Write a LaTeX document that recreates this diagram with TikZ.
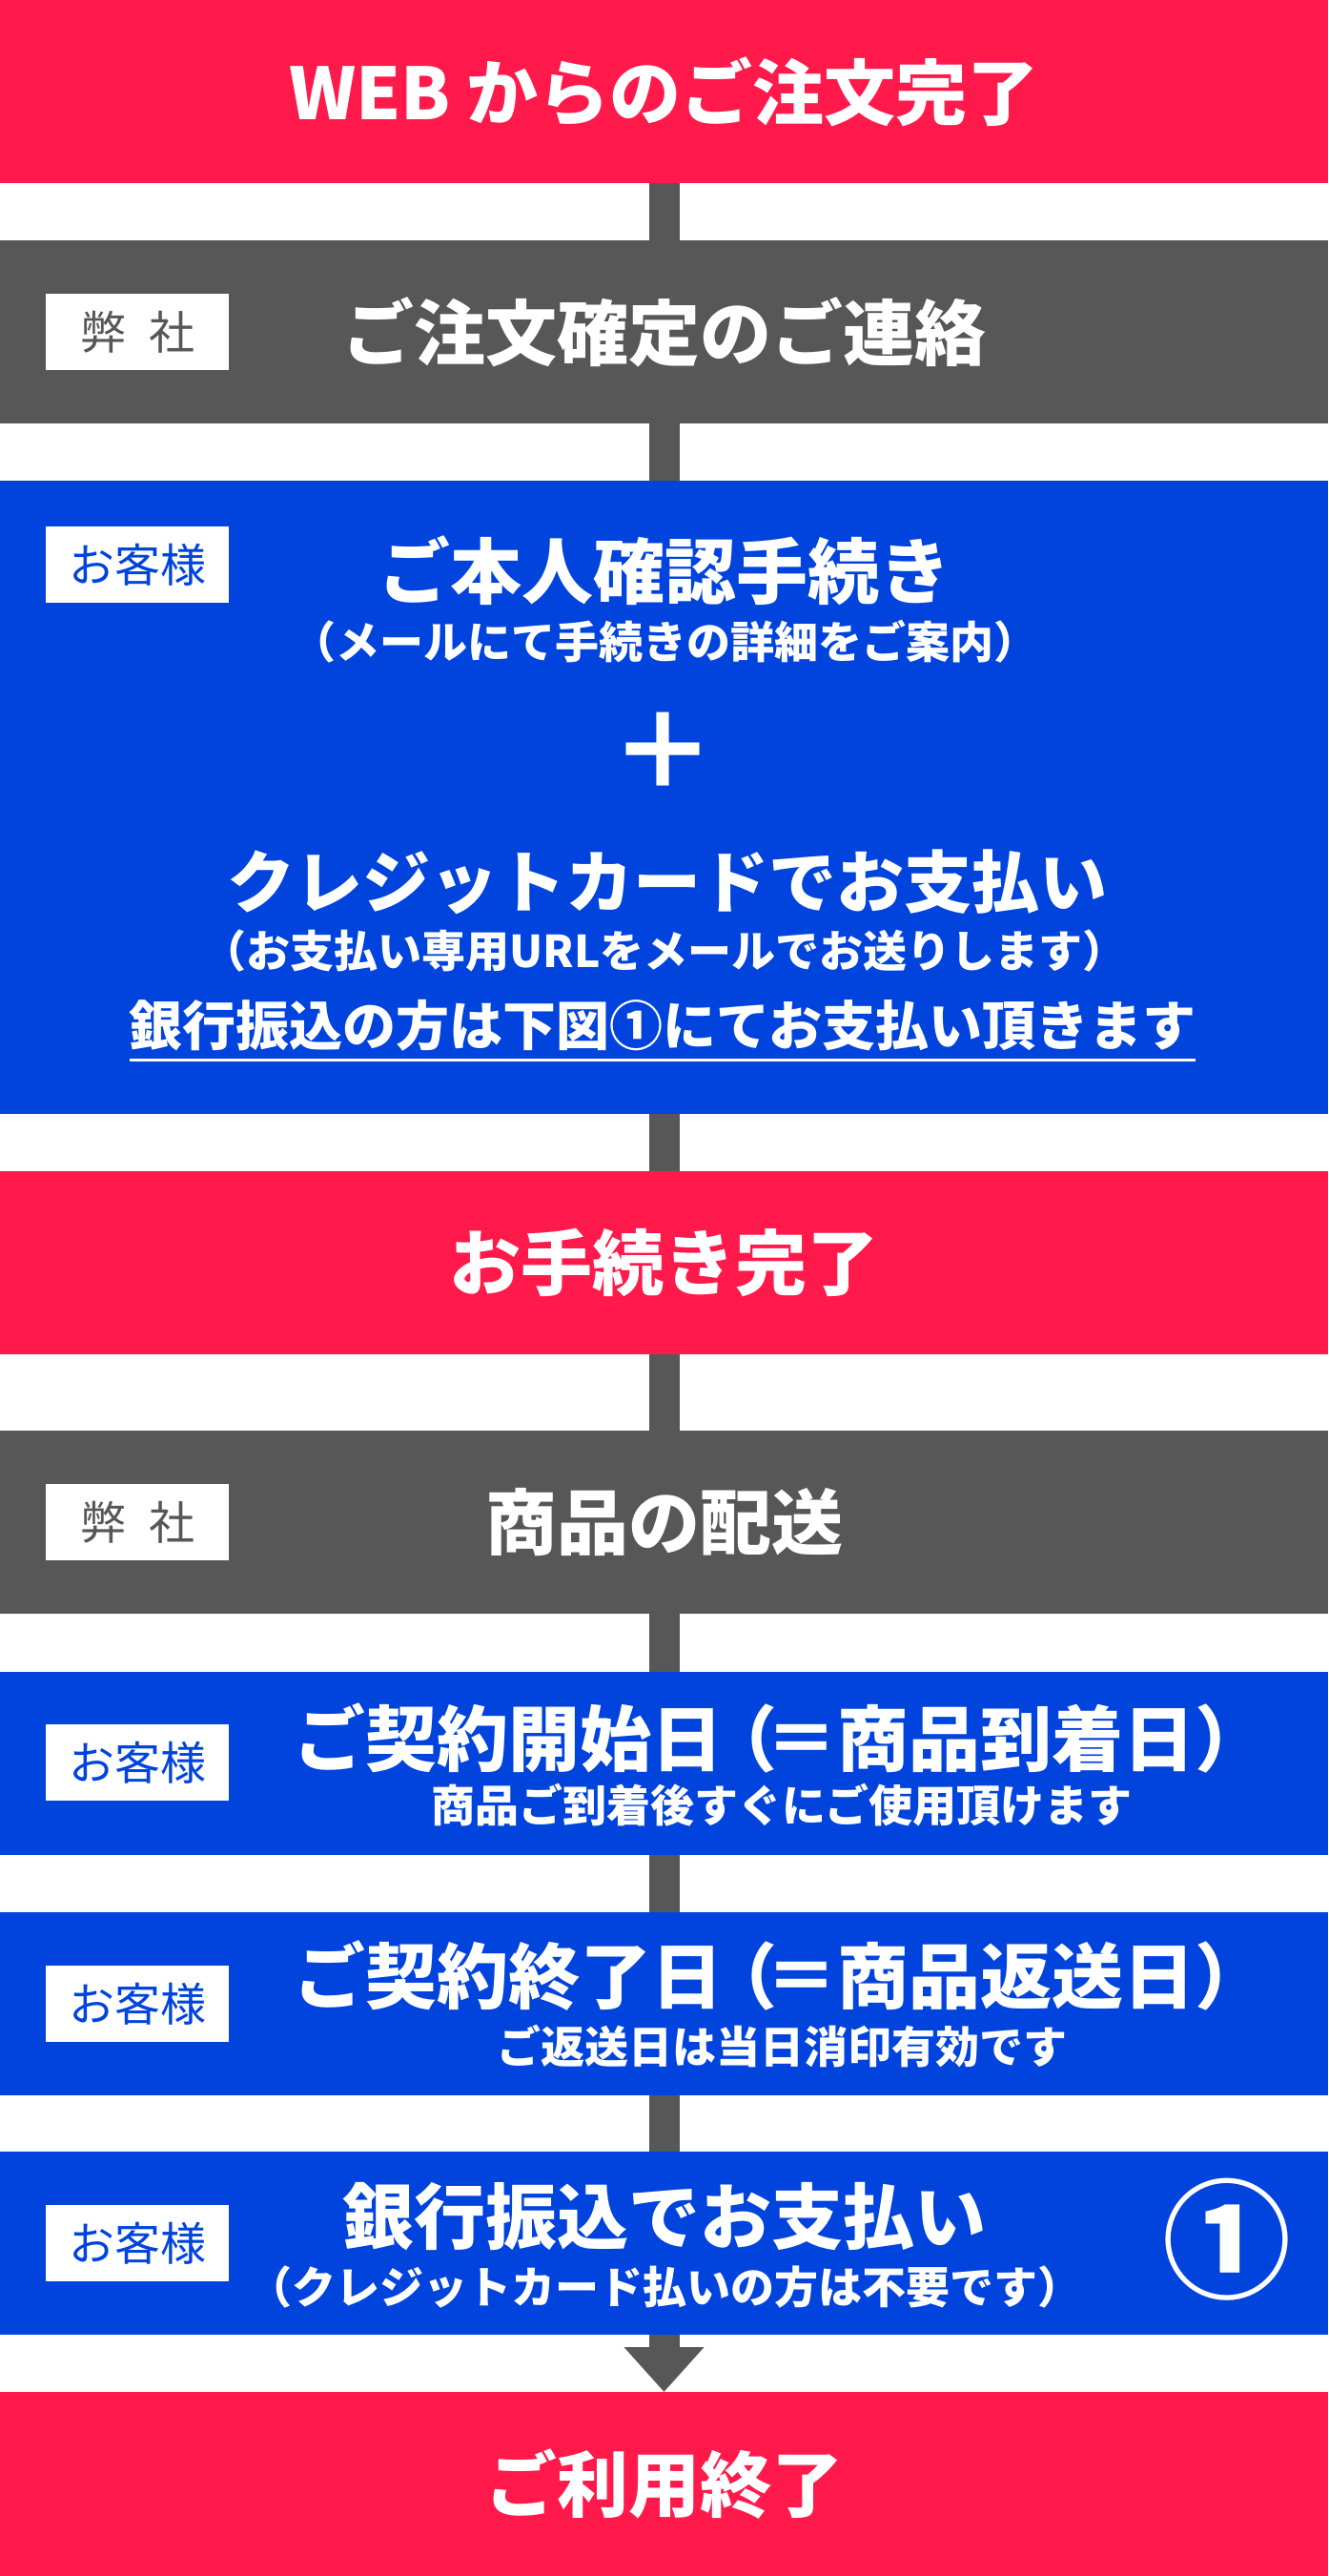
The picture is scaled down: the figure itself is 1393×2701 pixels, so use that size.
\documentclass[tikz,border=0pt]{standalone}
\usepackage{fontspec}
\setmainfont{Noto Sans CJK JP}
\usepackage[HTML]{xcolor}
\usepackage{tikz}
\usetikzlibrary{positioning, arrows.meta}

\definecolor{webred}{HTML}{FF1A4B}
\definecolor{shopgray}{HTML}{575757}
\definecolor{custblue}{HTML}{0044DD}

\newcommand{\fHead}{\bfseries\fontsize{75}{80}\selectfont}
\newcommand{\fCard}{\bfseries\fontsize{71}{76}\selectfont}
\newcommand{\fNote}{\bfseries\fontsize{46}{50}\selectfont}
\newcommand{\fBank}{\bfseries\fontsize{56}{60}\selectfont}
\newcommand{\fTag}{\fontsize{48}{52}\selectfont}
\newcommand{\fPlus}{\bfseries\fontsize{110}{110}\selectfont}
\newcommand{\fMark}{\bfseries\fontsize{135}{135}\selectfont}
\newcommand{\lpar}{\kern-.23em（\kern-.17em}

\begin{document}
\begin{tikzpicture}[x=1pt, y=-1pt,
  box/.style={minimum width=1393pt, inner sep=0pt, outer sep=0pt, text=white},
  redbox/.style={box, fill=webred, minimum height=192pt, font=\fHead},
  graybox/.style={box, fill=shopgray, minimum height=192pt, font=\fHead},
  bluebox/.style={box, fill=custblue, minimum height=#1},
  tag/.style={fill=white, minimum width=192pt, minimum height=80pt, inner sep=0pt, font=\fTag},
  shoptag/.style={tag, text=shopgray},
  custtag/.style={tag, text=custblue},
  head/.style={text=white, font=\fHead, inner sep=0pt},
  note/.style={text=white, font=\fNote, inner sep=0pt},
  link/.style={draw=shopgray, line width=32pt}]
\useasboundingbox (0,0) rectangle (1393,2701);
% boxes
\node[redbox] (done1) at (696.5,96) {WEB からのご注文完了};
\node[graybox] (confirm) at (696.5,348) {ご注文確定のご連絡};
\node[bluebox=664pt] (identity) at (696.5,836) {};
\node[redbox] (done2) at (696.5,1324) {お手続き完了};
\node[graybox] (ship) at (696.5,1596) {商品の配送};
\node[bluebox=192pt] (start) at (696.5,1848.5) {};
\node[bluebox=192pt] (finish) at (696.5,2101) {};
\node[bluebox=192pt] (bank) at (696.5,2352) {};
\node[redbox, minimum height=193pt] (done3) at (696.5,2604.5) {ご利用終了};
% connectors
\foreach \a/\b in {done1/confirm, confirm/identity, identity/done2, done2/ship, ship/start, start/finish, finish/bank}
  \draw[link] (\a) -- (\b);
\draw[link, -{Triangle[width=81pt, length=47pt]}] (bank) -- (done3);
% who does it
\node[shoptag] (tag1) at (144,348) {弊\hspace{.5em}社};
\node[custtag] (tag2) at (144,592) {お客様};
\node[shoptag] (tag3) at (144,1596) {弊\hspace{.5em}社};
\node[custtag] (tag4) at (144,1848) {お客様};
\node[custtag] (tag5) at (144,2101) {お客様};
\node[custtag] (tag6) at (144,2352) {お客様};
% identity check + card payment
\node[head] (idhead) at (697,598) {ご本人確認手続き};
\node[note] (idnote) at (697,673) {（メールにて手続きの詳細をご案内）};
\node[text=white, font=\fPlus, inner sep=0pt] (plus) at (695,787) {＋};
\node[head, font=\fCard] (cardhead) at (700,925) {クレジットカードでお支払い};
\node[note] (cardnote) at (697,997) {（お支払い専用URLをメールでお送りします）};
\node[text=white, font=\fBank, inner sep=0pt] (banknote) at (695,1075) {銀行振込の方は下図①にてお支払い頂きます};
\draw[white, line width=3pt] ([yshift=-9pt]banknote.south west) -- ([yshift=-9pt]banknote.south east);
% contract period
\node[head] (starthead) at (818,1822) {ご契約開始日\lpar＝商品到着日）};
\node[note] (startnote) at (820,1893) {商品ご到着後すぐにご使用頂けます};
\node[head] (endhead) at (818,2072) {ご契約終了日\lpar＝商品返送日）};
\node[note] (endnote) at (820,2146) {ご返送日は当日消印有効です};
% bank transfer
\node[head] (bankhead) at (697,2324) {銀行振込でお支払い};
\node[note] (banknote2) at (697,2398) {（クレジットカード払いの方は不要です）};
\node[text=white, font=\fMark, inner sep=0pt] (mark) at (1287,2348) {①};
\end{tikzpicture}
\end{document}
